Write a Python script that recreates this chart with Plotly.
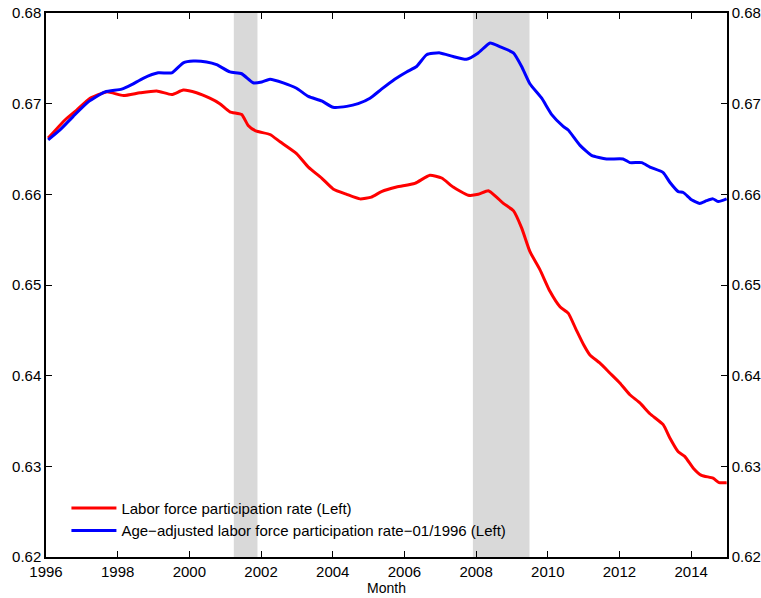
import plotly.graph_objects as go

# Decimal years and values
lfp_years = [1996.06, 1996.53, 1996.86, 1997.23, 1997.69, 1998.16, 1998.62, 1999.09,
             1999.51, 1999.83, 2000.2, 2000.57, 2000.85, 2001.13, 2001.46, 2001.64,
             2001.85, 2002.25, 2002.53, 2002.99, 2003.32, 2003.69, 2004.01, 2004.39,
             2004.76, 2005.08, 2005.36, 2005.78, 2006.29, 2006.71, 2007.04, 2007.36,
             2007.78, 2008.06, 2008.34, 2008.57, 2008.76, 2009.04, 2009.27, 2009.5,
             2009.78, 2010.06, 2010.34, 2010.57, 2010.8, 2011.0, 2011.17, 2011.45,
             2011.73, 2012.01, 2012.29, 2012.57, 2012.85, 2013.22, 2013.41, 2013.64,
             2013.82, 2014.06, 2014.29, 2014.61, 2014.78, 2014.99]
lfp_rate = [0.6662, 0.6682, 0.6693, 0.6706, 0.6713, 0.6709, 0.6712, 0.6714,
            0.6710, 0.6715, 0.6712, 0.6706, 0.6700, 0.6691, 0.6688, 0.6676,
            0.6670, 0.6666, 0.6658, 0.6645, 0.6630, 0.6618, 0.6606, 0.6600,
            0.6595, 0.6597, 0.6603, 0.6608, 0.6612, 0.6621, 0.6618, 0.6608,
            0.6599, 0.6600, 0.6604, 0.6597, 0.6590, 0.6582, 0.6563, 0.6537,
            0.6517, 0.6493, 0.6476, 0.6469, 0.6450, 0.6434, 0.6423, 0.6414,
            0.6403, 0.6392, 0.6379, 0.6370, 0.6358, 0.6346, 0.6331, 0.6316,
            0.6311, 0.6298, 0.6290, 0.6287, 0.6282, 0.6282]

adj_years = [1996.06, 1996.39, 1996.76, 1997.18, 1997.65, 1998.11, 1998.39, 1998.71,
             1999.13, 1999.51, 1999.83, 2000.11, 2000.48, 2000.76, 2001.13, 2001.46,
             2001.78, 2002.02, 2002.25, 2002.62, 2002.99, 2003.32, 2003.69, 2004.01,
             2004.39, 2004.71, 2005.04, 2005.36, 2005.73, 2006.06, 2006.34, 2006.62,
             2006.99, 2007.36, 2007.73, 2008.06, 2008.39, 2008.66, 2009.04, 2009.27,
             2009.5, 2009.83, 2010.11, 2010.43, 2010.57, 2010.9, 2011.22, 2011.64,
             2012.1, 2012.29, 2012.62, 2012.85, 2013.22, 2013.41, 2013.64, 2013.78,
             2014.01, 2014.24, 2014.43, 2014.61, 2014.76, 2014.99]
adj_rate = [0.6660, 0.6671, 0.6686, 0.6702, 0.6713, 0.6716, 0.6721, 0.6728,
            0.6734, 0.6734, 0.6745, 0.6747, 0.6746, 0.6743, 0.6735, 0.6733,
            0.6723, 0.6724, 0.6727, 0.6723, 0.6717, 0.6708, 0.6703, 0.6696,
            0.6697, 0.6700, 0.6706, 0.6716, 0.6727, 0.6735, 0.6741, 0.6754,
            0.6756, 0.6752, 0.6749, 0.6756, 0.6767, 0.6763, 0.6756, 0.6741,
            0.6722, 0.6706, 0.6688, 0.6675, 0.6671, 0.6654, 0.6643, 0.6639,
            0.6639, 0.6635, 0.6635, 0.6630, 0.6624, 0.6613, 0.6603, 0.6602,
            0.6594, 0.6590, 0.6593, 0.6595, 0.6592, 0.6595]

# NBER recessions (start, end)
recessions = [(2001.24, 2001.90), (2007.91, 2009.49)]

x_ticks = [1996, 1998, 2000, 2002, 2004, 2006, 2008, 2010, 2012, 2014]

font = "Liberation Sans, Arial, sans-serif"

fig = go.Figure()

fig.add_trace(go.Scatter(
    x=lfp_years, y=lfp_rate, mode="lines",
    name="Labor force participation rate (Left)",
    line=dict(color="#ff0000", width=3, shape="spline", smoothing=0.5),
))
fig.add_trace(go.Scatter(
    x=adj_years, y=adj_rate, mode="lines",
    name="Age\u2212adjusted labor force participation rate\u221201/1996 (Left)",
    line=dict(color="#0000ff", width=3, shape="spline", smoothing=0.5),
))
# invisible copy so the right-hand axis gets drawn
fig.add_trace(go.Scatter(
    x=lfp_years, y=lfp_rate, mode="lines", yaxis="y2", opacity=0,
    showlegend=False, hoverinfo="skip", line=dict(width=0),
))

# Recession shading
for start, end in recessions:
    fig.add_shape(type="rect", xref="x", yref="paper", x0=start, x1=end, y0=0, y1=1,
                  fillcolor="#d9d9d9", line_width=0, layer="below")

axis_common = dict(showgrid=False, zeroline=False, showline=True, linecolor="black",
                   linewidth=1.5, ticks="inside", ticklen=6, tickcolor="black",
                   tickfont=dict(size=15, color="black"), automargin=False)

fig.update_layout(
    width=761, height=598,
    margin=dict(l=46, r=34, t=13, b=41),
    paper_bgcolor="white", plot_bgcolor="white",
    font=dict(family=font, color="black", size=15),
    xaxis=dict(range=[1996, 2015], tickvals=x_ticks, mirror="ticks",
               title=dict(text="Month", font=dict(size=14), standoff=3),
               **axis_common),
    yaxis=dict(range=[0.62, 0.68], dtick=0.01, tickformat=".2f", **axis_common),
    yaxis2=dict(range=[0.62, 0.68], dtick=0.01, tickformat=".2f", overlaying="y",
                side="right", **axis_common),
    legend=dict(x=0.03, y=0.12, xanchor="left", yanchor="top",
                bgcolor="rgba(0,0,0,0)", font=dict(size=15),
                tracegroupgap=0, itemwidth=45),
    showlegend=True,
)

# drop the default page margin so the figure sits at the window's top-left
fig.write_html("out.html", config={"displayModeBar": False},
               post_script="document.body.style.margin='0';")
